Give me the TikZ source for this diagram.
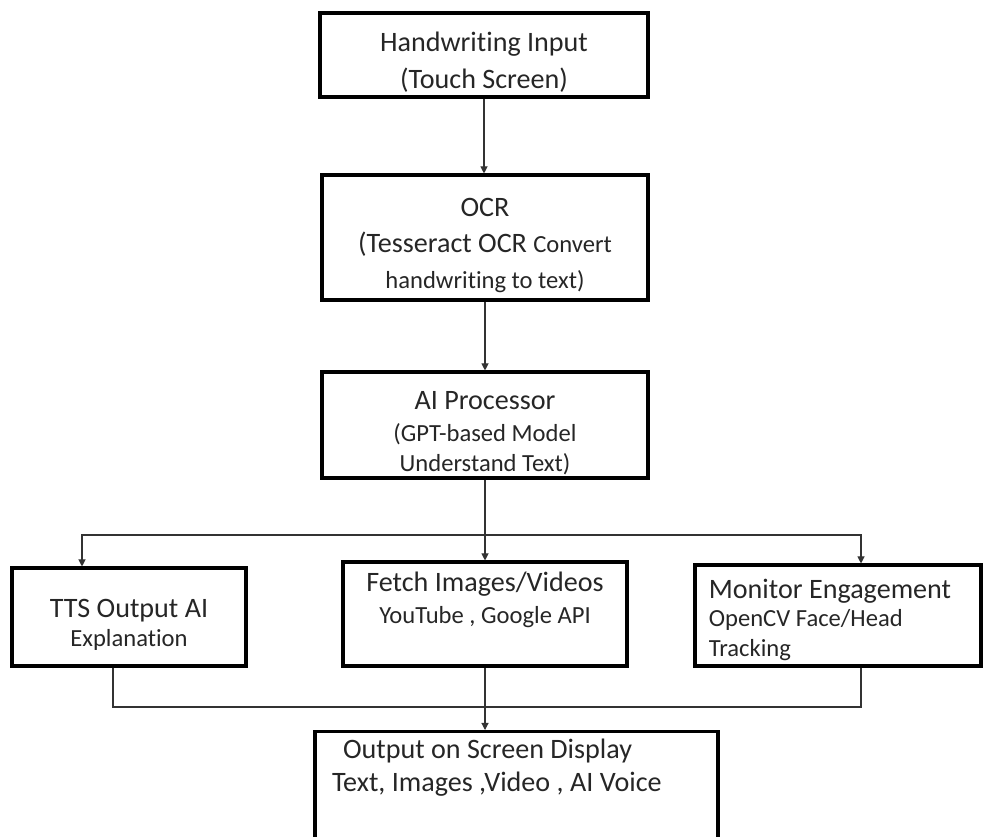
\documentclass[tikz,border=0pt]{standalone}
\usepackage{fontspec}
\setmainfont{Carlito}[Ligatures=NoCommon]
\usetikzlibrary{arrows.meta}
\newcommand{\sm}{\fontsize{17.5}{21}\selectfont}
\newcommand{\pad}{\rule{0pt}{24pt}}
\tikzset{
  block/.style={draw, line width=2.2pt, align=center, text=black!85,
    font=\fontsize{20}{26}\selectfont, inner sep=2pt},
  link/.style={line width=0.8pt, draw=black!80},
  arrow/.style={link, -{Triangle[length=5pt,width=5pt]}},
}

\begin{document}
\begin{tikzpicture}
		%%%%% START %%%%%
		\clip (0, 0) rectangle (24.6, -20.9);
		
		\node[block, minimum width=8.2cm, minimum height=2.1cm] (input) at (12.1, -1.375)
			{\pad Handwriting Input\\(Touch Screen)};
		\node[block, minimum width=8.15cm, minimum height=3.125cm] (ocr) at (12.125, -5.9375)
			{\pad OCR\\(Tesseract OCR {\sm Convert}\\[-1pt]{\sm handwriting to text)}};
		\node[block, minimum width=8.15cm, minimum height=2.65cm] (ai) at (12.125, -10.625)
			{\pad AI Processor\\[-3pt]{\sm (GPT-based Model}\\[-5pt]{\sm Understand Text)}};
		
		\node[block, minimum width=5.85cm, minimum height=2.45cm] (tts) at (3.225, -15.425)
			{\pad TTS Output AI\\[-5pt]{\sm Explanation}};
		\node[block, minimum width=7.1cm, minimum height=2.6cm] (fetch) at (12.125, -15.35)
			{Fetch Images/Videos\\[-3pt]{\sm YouTube , Google API}\\[-3pt]\mbox{}};
		\node[block, align=left, minimum width=7.15cm, minimum height=2.525cm] (monitor) at (20.95, -15.3875)
			{\rule{0pt}{20pt}Monitor Engagement\hspace*{0.4cm}\\[-6pt]{\sm OpenCV Face/Head}\\[-5pt]{\sm Tracking}};
		
		\node[block, align=flush left, anchor=north, text width=9.225cm, inner xsep=0.425cm, inner ysep=0.175cm] (output) at (12.9125, -18.25)
			{\hspace*{0.275cm}Output on Screen Display\\[-2pt]Text, Images ,Video , AI Voice\\[-2pt]\mbox{}\\[-2pt]\mbox{}};
		
		\draw[arrow] (input.south) -- (input.south |- ocr.north);
		\draw[arrow] (ocr.south) -- (ai.north);
		\draw[arrow] (ai.south) -- (fetch.north);
		
		\coordinate (split) at (12.125, -13.375);
		\draw[arrow] (split) -| ([xshift=-1.175cm]tts.north);
		\draw[arrow] (split) -| ([xshift=0.575cm]monitor.north);
		
		\coordinate (merge) at (12.125, -17.675);
		\draw[link] ([xshift=-0.4cm]tts.south) |- (merge) -| ([xshift=0.575cm]monitor.south);
		\draw[arrow] (fetch.south) -- (fetch.south |- output.north);
		
		%%%%% END %%%%%
	\end{tikzpicture}
\end{document}
